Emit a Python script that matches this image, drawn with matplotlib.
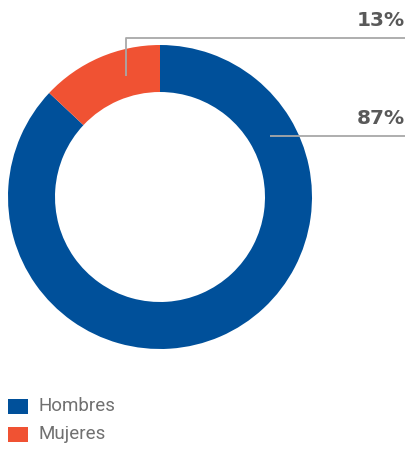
import matplotlib
matplotlib.use("Agg")
import matplotlib.pyplot as plt
from matplotlib.patches import Rectangle

categories = ["Hombres", "Mujeres"]
values = [87, 13]
colors = ["#00509A", "#F05233"]
labels = ["87%", "13%"]

W, H = 407, 449
fig = plt.figure(figsize=(W / 100, H / 100), dpi=100)
ax = fig.add_axes([0, 0, 1, 1])

# donut, pixel-like coordinates (y up)
ax.pie(values, colors=colors, startangle=90, counterclock=False,
       center=(160, H - 197), radius=152, frame=True,
       wedgeprops=dict(width=47, linewidth=0))

ax.set_xlim(0, W)
ax.set_ylim(0, H)
ax.set_aspect("equal")
ax.axis("off")

line_kw = dict(color="#A8A8A8", lw=1.3, solid_capstyle="butt")
txt_kw = dict(fontsize=14.5, fontweight="bold", color="#595959",
              family=["DejaVu Sans"], ha="right", va="baseline")

# 13% leader
ax.plot([126, 126, 405], [H - 76, H - 38, H - 38], **line_kw)
ax.text(405, H - 26, labels[1], **txt_kw)
# 87% leader
ax.plot([270, 405], [H - 136, H - 136], **line_kw)
ax.text(405, H - 124, labels[0], **txt_kw)

# legend
for i, (cat, col) in enumerate(zip(categories, colors)):
    y = H - 407 - i * 28
    ax.add_patch(Rectangle((8, y - 7), 20, 15, color=col, lw=0))
    ax.text(39, y + 1, cat, fontsize=13.5, color="#707070",
            family=["Roboto", "DejaVu Sans"], va="center", ha="left")

fig.savefig("out.png", dpi=100)
